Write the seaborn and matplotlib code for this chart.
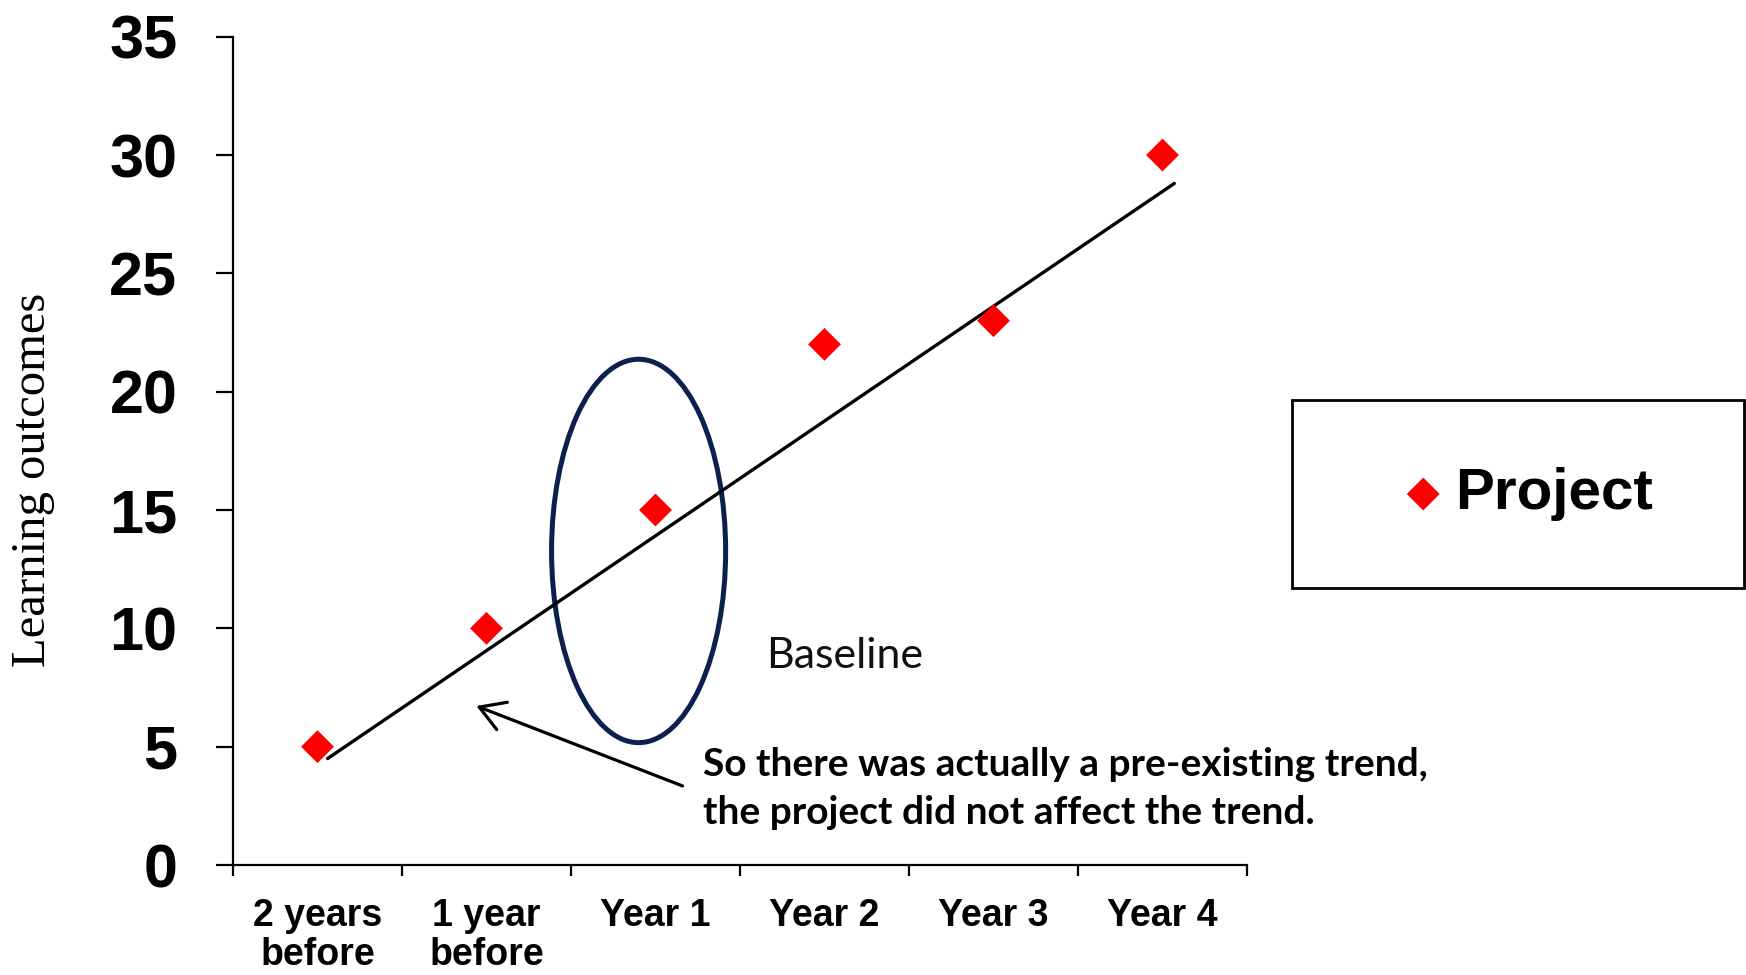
import numpy as np
import matplotlib
matplotlib.use("Agg")
import matplotlib.pyplot as plt
from matplotlib.patches import Ellipse
from matplotlib.ticker import FixedLocator, NullFormatter
import seaborn as sns

# Data
periods = ["2 years\nbefore", "1 year\nbefore", "Year 1", "Year 2", "Year 3", "Year 4"]
outcomes = [5, 10, 15, 22, 23, 30]
series_name = "Project"
trend_x = [0.06, 5.07]      # drawn trend line, x in period positions
trend_y = [4.5, 28.8]       # drawn trend line, learning outcome values
y_ticks = [0, 5, 10, 15, 20, 25, 30, 35]

sns.set_theme(style="ticks")
plt.rcParams["font.family"] = ["Liberation Sans", "DejaVu Sans"]
plt.rcParams["text.color"] = "black"
plt.rcParams["xtick.labelcolor"] = "black"
plt.rcParams["ytick.labelcolor"] = "black"

fig = plt.figure(figsize=(17.46, 9.75), dpi=100)
ax = fig.add_axes([233 / 1746, 1 - 865 / 975, (1247 - 233) / 1746, (865 - 36.7) / 975])

x_pos = np.arange(len(periods))
sns.scatterplot(x=x_pos, y=outcomes, marker="D", s=280, color="#ff0000",
                edgecolor="none", linewidth=0, label=series_name, ax=ax,
                zorder=4, legend=False)
sns.lineplot(x=trend_x, y=trend_y, color="black", linewidth=2.4, ax=ax,
             zorder=3, legend=False)

# Circle round the first project year
ax.add_patch(Ellipse((1.9, 13.27), 1.03, 16.2, fill=False,
                     edgecolor="#0c1f4f", linewidth=3.6, zorder=2))

ax.text(2.654, 8.32, "Baseline", fontsize=31, family=["Lato", "DejaVu Sans"],
        color="#111111", va="baseline", ha="left")

ax.annotate("", xy=(0.94, 6.72), xytext=(2.16, 3.34),
            arrowprops=dict(arrowstyle="->,head_length=0.55,head_width=0.33",
                            lw=2.3, color="black", mutation_scale=32,
                            shrinkA=0, shrinkB=0))

ax.text(2.281, 1.75,
        "So there was actually a pre-existing trend,\nthe project did not affect the trend.",
        fontsize=28, fontweight="bold", family=["Lato", "DejaVu Sans"],
        color="black", va="baseline", ha="left", linespacing=1.45)

# Axes
ax.set_xlim(-0.5, len(periods) - 0.5)
ax.set_ylim(0, 35)
ax.set_yticks(y_ticks)
ax.set_yticklabels([str(v) for v in y_ticks], fontsize=44, fontweight="bold")
ax.xaxis.set_major_locator(FixedLocator(np.arange(-0.5, len(periods), 1.0)))
ax.xaxis.set_major_formatter(NullFormatter())
ax.xaxis.set_minor_locator(FixedLocator(x_pos))
ax.set_xticklabels(periods, minor=True, fontsize=27, fontweight="bold",
                   linespacing=1.1)
ax.tick_params(axis="y", length=12, width=1.6, pad=28, color="black")
ax.tick_params(axis="x", which="major", length=8, width=1.6, color="black")
ax.tick_params(axis="x", which="minor", length=0, pad=24)
for side in ["left", "bottom"]:
    ax.spines[side].set_linewidth(1.6)
    ax.spines[side].set_color("black")
sns.despine(ax=ax)
ax.set_xlabel("")
ax.set_ylabel("")

fig.text(33 / 1746, 1 - 480 / 975, "Learning outcomes", rotation=90,
         fontsize=35, family=["Liberation Serif", "DejaVu Serif"],
         ha="center", va="center")

leg = ax.legend(loc="center", bbox_to_anchor=(1292 / 1746, 0.393, 452 / 1746, 0.2),
                bbox_transform=fig.transFigure, mode="expand", borderaxespad=0,
                borderpad=1.15, handlelength=2.2, handletextpad=-0.55,
                scatterpoints=1, frameon=True, fancybox=False,
                prop=dict(size=42, weight="bold"))
leg.get_frame().set_edgecolor("black")
leg.get_frame().set_linewidth(2)
leg.get_frame().set_alpha(1)

fig.savefig("out.png", dpi=100, facecolor="white")
